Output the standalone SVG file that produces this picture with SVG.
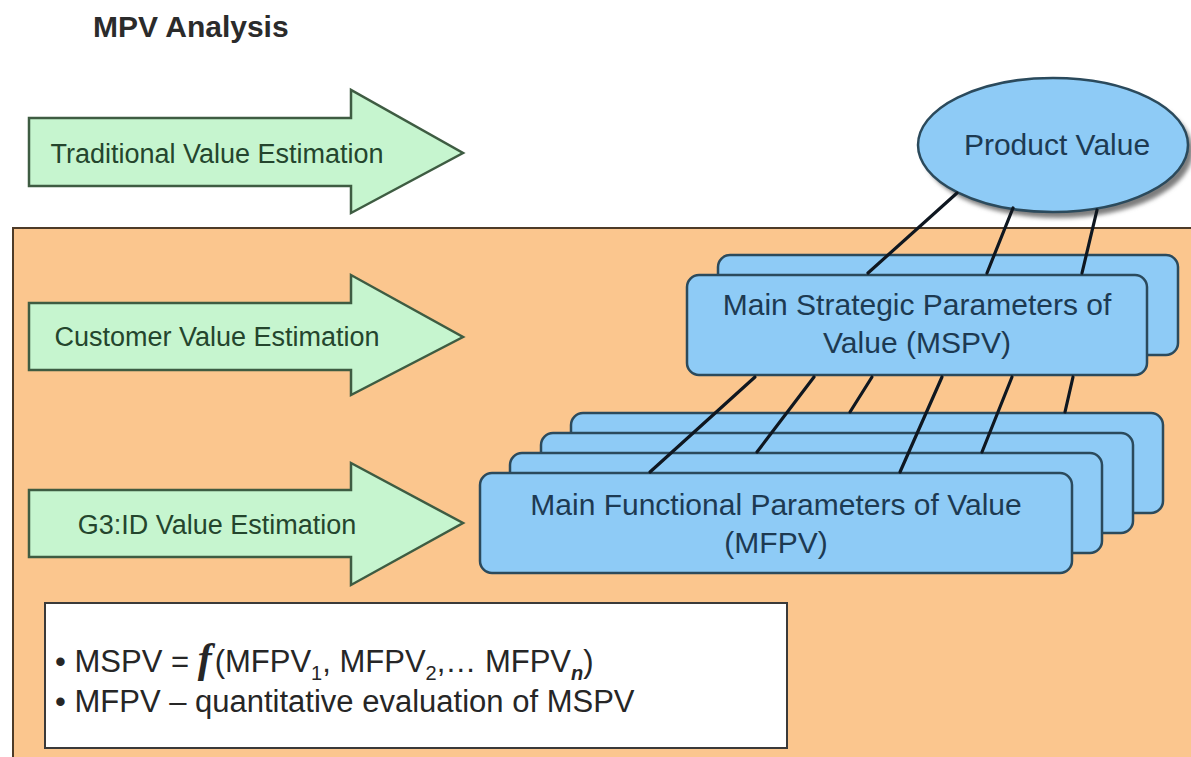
<svg xmlns="http://www.w3.org/2000/svg" width="1191" height="757" viewBox="0 0 1191 757">
  <style>
    .title { font-family: "Liberation Sans", Arial, sans-serif; font-weight: bold; font-size: 30px; fill: #2b2b2b; }
    .arrow { fill: #c6f5cf; stroke: #3e5c42; stroke-width: 2.5; stroke-linejoin: miter; }
    .arrow-label { font-family: "Liberation Sans", Arial, sans-serif; font-size: 27px; fill: #24452d; text-anchor: middle; }
    .box { fill: #8ecbf6; stroke: #2b4a5c; stroke-width: 2.5; }
    .box-label { font-family: "Liberation Sans", Arial, sans-serif; font-size: 30px; fill: #1d3a52; text-anchor: middle; }
    .link { stroke: #0f1720; stroke-width: 3.2; stroke-linecap: round; fill: none; }
    .note { font-family: "Liberation Sans", Arial, sans-serif; font-size: 31px; fill: #262626; }
  </style>
  <defs>
    <filter id="soft" x="-10%" y="-10%" width="120%" height="130%">
      <feGaussianBlur stdDeviation="2"/>
    </filter>
  </defs>

  <!-- page background -->
  <rect x="0" y="0" width="1191" height="757" fill="#ffffff"/>

  <!-- title -->
  <text class="title" x="93" y="37">MPV Analysis</text>

  <!-- orange work area -->
  <rect id="panel" x="13" y="228" width="1200" height="540" fill="#fbc68e" stroke="#4d3b28" stroke-width="2"/>

  <!-- estimation arrows -->
  <g id="arrow-traditional">
    <polygon class="arrow" points="29,118 351,118 351,90 463,153 351,213 351,186 29,186"/>
    <text class="arrow-label" x="217" y="163">Traditional Value Estimation</text>
  </g>
  <g id="arrow-customer">
    <polygon class="arrow" points="29,303 351,303 351,275 463,337 351,395 351,370 29,370"/>
    <text class="arrow-label" x="217" y="346">Customer Value Estimation</text>
  </g>
  <g id="arrow-g3id">
    <polygon class="arrow" points="29,490 351,490 351,463 463,523 351,585 351,557 29,557"/>
    <text class="arrow-label" x="217" y="534">G3:ID Value Estimation</text>
  </g>

  <!-- product value ellipse -->
  <g id="product-value">
    <ellipse cx="1058" cy="151" rx="135" ry="67" fill="#7d7d7d" filter="url(#soft)"/>
    <ellipse cx="1053" cy="145" rx="135" ry="67" class="box"/>
    <text class="box-label" x="1057" y="155">Product Value</text>
  </g>

  <!-- strategic parameters stack -->
  <g id="mspv">
    <rect class="box" x="718" y="255" width="460" height="100" rx="12"/>
    <rect class="box" x="687" y="275" width="460" height="100" rx="12"/>
    <text class="box-label" x="917" y="315">Main Strategic Parameters of</text>
    <text class="box-label" x="917" y="353">Value (MSPV)</text>
  </g>

  <!-- functional parameters stack -->
  <g id="mfpv">
    <rect class="box" x="571" y="413" width="592" height="100" rx="12"/>
    <rect class="box" x="541" y="433" width="592" height="100" rx="12"/>
    <rect class="box" x="510" y="453" width="592" height="100" rx="12"/>
    <rect class="box" x="480" y="473" width="592" height="100" rx="12"/>
    <text class="box-label" x="776" y="515">Main Functional Parameters of Value</text>
    <text class="box-label" x="776" y="553">(MFPV)</text>
  </g>

  <!-- connectors -->
  <g id="connectors">
    <line class="link" x1="957" y1="193" x2="868" y2="273"/>
    <line class="link" x1="1013" y1="208" x2="987" y2="273"/>
    <line class="link" x1="1097" y1="210" x2="1082" y2="273"/>

    <line class="link" x1="755" y1="377" x2="650" y2="472"/>
    <line class="link" x1="814" y1="377" x2="757" y2="452"/>
    <line class="link" x1="872" y1="377" x2="850" y2="412"/>
    <line class="link" x1="942" y1="377" x2="900" y2="472"/>
    <line class="link" x1="1012" y1="377" x2="982" y2="452"/>
    <line class="link" x1="1073" y1="377" x2="1065" y2="412"/>
  </g>

  <!-- formula note -->
  <g id="note">
    <rect x="45" y="603" width="742" height="145" fill="#ffffff" stroke="#3a3a3a" stroke-width="2"/>
    <text class="note" x="55" y="672">• MSPV = <tspan font-family="'Liberation Serif', serif" font-style="italic" font-weight="bold" font-size="42">f</tspan><tspan dx="3">(MFPV</tspan><tspan font-size="20" dy="8">1</tspan><tspan dy="-8">, MFPV</tspan><tspan font-size="20" dy="8">2</tspan><tspan dy="-8">,… MFPV</tspan><tspan font-size="20" font-style="italic" font-weight="bold" dy="8">n</tspan><tspan dy="-8">)</tspan></text>
    <text class="note" x="55" y="712">• MFPV – quantitative evaluation of MSPV</text>
  </g>
</svg>
